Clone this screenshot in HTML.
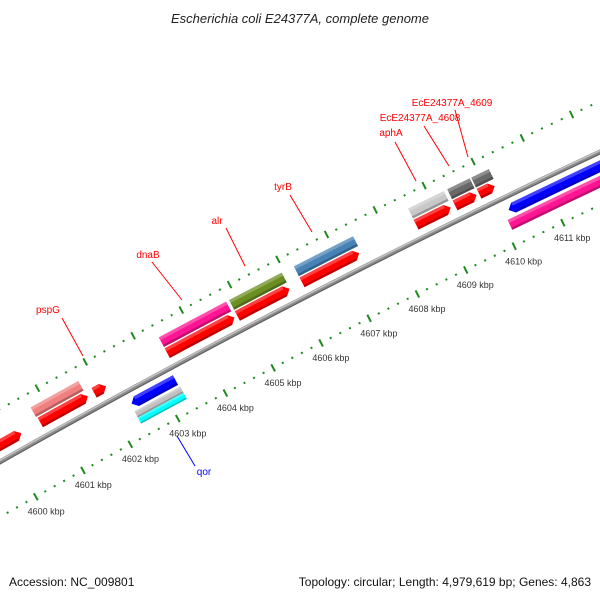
<!DOCTYPE html>
<html><head><meta charset="utf-8"><style>
html,body{margin:0;padding:0;background:#fff;width:600px;height:600px;overflow:hidden}
svg{display:block;font-family:"Liberation Sans",sans-serif}
</style></head><body>
<svg id="map" width="600" height="600" viewBox="0 0 600 600">
<text x="300" y="23" text-anchor="middle" font-size="13" font-style="italic" fill="#222">Escherichia coli E24377A, complete genome</text>
<g id="backbone-g"></g>
<g id="ticks-g"></g>
<g id="feat-g"></g>
<g id="labels-g">
<line x1="62" y1="318" x2="83" y2="356" stroke="#f00" stroke-width="1"/>
<text x="48" y="313" text-anchor="middle" font-size="10" fill="#f00">pspG</text>
<line x1="152" y1="262" x2="182" y2="300" stroke="#f00" stroke-width="1"/>
<text x="148" y="258" text-anchor="middle" font-size="10" fill="#f00">dnaB</text>
<line x1="226" y1="228" x2="245" y2="266" stroke="#f00" stroke-width="1"/>
<text x="217" y="224" text-anchor="middle" font-size="10" fill="#f00">alr</text>
<line x1="290" y1="195" x2="312" y2="232" stroke="#f00" stroke-width="1"/>
<text x="283" y="190" text-anchor="middle" font-size="10" fill="#f00">tyrB</text>
<line x1="395" y1="142" x2="416" y2="181" stroke="#f00" stroke-width="1"/>
<text x="391" y="136" text-anchor="middle" font-size="10" fill="#f00">aphA</text>
<line x1="424" y1="126" x2="449" y2="166" stroke="#f00" stroke-width="1"/>
<text x="420" y="121" text-anchor="middle" font-size="10" fill="#f00">EcE24377A_4608</text>
<line x1="455" y1="110" x2="468" y2="157" stroke="#f00" stroke-width="1"/>
<text x="452" y="106" text-anchor="middle" font-size="10" fill="#f00">EcE24377A_4609</text>
<line x1="177" y1="436" x2="195" y2="466" stroke="#00f" stroke-width="1"/>
<text x="204" y="475" text-anchor="middle" font-size="10" fill="#00f">qor</text>
</g>
<text x="9" y="586" font-size="12" fill="#111">Accession: NC_009801</text>
<text x="591" y="586" text-anchor="end" font-size="12" fill="#111">Topology: circular; Length: 4,979,619 bp; Genes: 4,863</text>
</svg>
<script>
// data arrays (kbp)
const featStart = [4599.3, 4600.72, 4600.74, 4601.87, 4602.38, 4602.36, 4602.36, 4603.40, 4603.40, 4604.86, 4604.86, 4606.20, 4606.20, 4608.55, 4608.55, 4609.35, 4609.35, 4609.84, 4609.84, 4610.20, 4610.10];
const featEnd   = [4600.34, 4601.72, 4601.74, 4602.12, 4603.30, 4603.32, 4603.32, 4604.80, 4604.80, 4605.95, 4605.94, 4607.42, 4607.38, 4609.28, 4609.26, 4609.81, 4609.79, 4610.20, 4610.16, 4613.50, 4613.50];
const featStrand = [1, 1, 1, 1, -1, -1, -1, 1, 1, 1, 1, 1, 1, 1, 1, 1, 1, 1, 1, -1, -1];
const featKind  = ["cds", "cogPink", "cds", "cds", "cdsRev", "grayRev", "cyanRev", "cogMagenta", "cds", "cogOlive", "cds", "cogSteel", "cds", "cogLight", "cds", "cogDark", "cds", "cogDark", "cds", "cdsRev", "magRev"];
const featName  = ["cds-partial", "pspG-cog", "pspG", "small-cds", "qor", "qor-gray", "qor-cyan", "dnaB-cog", "dnaB", "alr-cog", "alr", "tyrB-cog", "tyrB", "aphA-cog", "aphA", "ece4608-cog", "ece4608", "ece4609-cog", "ece4609", "rev-cds-right", "rev-cog-right"];
const tickLabelKbp = [4600, 4601, 4602, 4603, 4604, 4605, 4606, 4607, 4608, 4609, 4610, 4611, 4612];
const tickMin = 4599, tickMax = 4613;

// geometry (style/layout)
const NS = "http://www.w3.org/2000/svg";
const CX = 4448.9, CY = 8340.5;
const RL = 9000, RB = 9048, RU = 9094;
const phA = Math.atan2(497 - CY, 36 - CX), phB = Math.atan2(223 - CY, 563 - CX);
const dphi = (phB - phA) / 11;
function ang(k){ return phA + (k - 4600) * dphi; }
function pt(k, r){ const a = ang(k); return [CX + r * Math.cos(a), CY + r * Math.sin(a)]; }
const kinds = {
  cds:{off:14.6, th:11, col:"#ff0000", arrow:true},
  cdsRev:{off:-13, th:11, col:"#0000ff", arrow:true},
  cogPink:{off:27, th:11, col:"#f08080"},
  cogMagenta:{off:27, th:11, col:"#ff1493"},
  cogOlive:{off:27, th:11, col:"#6b8e23"},
  cogSteel:{off:27, th:11, col:"#4682b4"},
  cogLight:{off:27, th:11, col:"#c8c8c8"},
  cogDark:{off:27, th:11, col:"#696969"},
  grayRev:{off:-24.5, th:7, col:"#c0c0c0"},
  cyanRev:{off:-31.5, th:7, col:"#00ffff"},
  magRev:{off:-27, th:11, col:"#ff1493"}
};
function polyStr(p){ return p.map(q => q[0].toFixed(2) + "," + q[1].toFixed(2)).join(" "); }

// backbone
(function(){
  const g = document.getElementById("backbone-g");
  const specs = [[RB, 5, "#8c8c8c"], [RB + 1.3, 1.4, "#c4c4c4"], [RB - 1.8, 1, "#5e5e5e"]];
  specs.forEach((s, i) => {
    const pts = [];
    for (let k = tickMin - 1; k <= tickMax + 1; k += 0.5) pts.push(pt(k, s[0]));
    const pl = document.createElementNS(NS, "polyline");
    pl.setAttribute("points", polyStr(pts));
    pl.setAttribute("fill", "none");
    pl.setAttribute("stroke", s[2]);
    pl.setAttribute("stroke-width", s[1]);
    
    
    g.appendChild(pl);
  });
})();

// ticks
(function(){
  const g = document.getElementById("ticks-g");
  [RU, RL].forEach(r => {
    for (let i = 0; ; i++) {
      const k = tickMin + i * 0.2;
      if (k > tickMax + 1e-6) break;
      const major = Math.abs(k - Math.round(k)) < 1e-6;
      const h = major ? 4 : 1;
      const a = pt(k, r - h), b = pt(k, r + h);
      const ln = document.createElementNS(NS, "line");
      ln.setAttribute("x1", a[0]); ln.setAttribute("y1", a[1]);
      ln.setAttribute("x2", b[0]); ln.setAttribute("y2", b[1]);
      ln.setAttribute("stroke", "#1f8a1f");
      ln.setAttribute("stroke-width", 2);
      
      
      g.appendChild(ln);
    }
  });
  tickLabelKbp.forEach(k => {
    const p = pt(k, RL - 17);
    const t = document.createElementNS(NS, "text");
    t.setAttribute("x", p[0] + 2); t.setAttribute("y", p[1] + 3);
    t.setAttribute("text-anchor", "middle");
    t.setAttribute("font-size", "9");
    t.setAttribute("fill", "#333");
    t.textContent = k + " kbp";
    
    
    g.appendChild(t);
  });
})();

// features
(function(){
  const g = document.getElementById("feat-g");
  function band(k1, k2, r1, r2){
    const n = 8, out = [], inn = [];
    for (let i = 0; i <= n; i++) { const k = k1 + (k2 - k1) * i / n; out.push(pt(k, r2)); inn.push(pt(k, r1)); }
    return out.concat(inn.reverse());
  }
  for (let i = 0; i < featStart.length; i++) {
    const s = kinds[featKind[i]];
    const rc = RB + s.off, r1 = rc - s.th / 2, r2 = rc + s.th / 2;
    const k1 = featStart[i], k2 = featEnd[i];
    const tip = Math.min(0.1, (k2 - k1) * 0.4);
    let pts;
    if (s.arrow && featStrand[i] > 0) {
      pts = band(k1, k2 - tip, r1, r2);
      pts.splice(9, 0, pt(k2, rc));
    } else if (s.arrow && featStrand[i] < 0) {
      pts = band(k1 + tip, k2, r1, r2);
      pts.push(pt(k1, rc));
    } else {
      pts = band(k1, k2, r1, r2);
    }
    const grp = document.createElementNS(NS, "g");
    
    
    const p = document.createElementNS(NS, "polygon");
    p.setAttribute("points", polyStr(pts));
    p.setAttribute("fill", s.col);
    
    
    grp.appendChild(p);
    const a1 = s.arrow && featStrand[i] < 0 ? k1 + tip : k1;
    const a2 = s.arrow && featStrand[i] > 0 ? k2 - tip : k2;
    const hi = document.createElementNS(NS, "polygon");
    hi.setAttribute("points", polyStr(band(a1, a2, r2 - s.th * 0.3, r2)));
    hi.setAttribute("fill", "#fff");
    hi.setAttribute("fill-opacity", "0.25");
    
    
    grp.appendChild(hi);
    const sh = document.createElementNS(NS, "polygon");
    sh.setAttribute("points", polyStr(band(a1, a2, r1, r1 + s.th * 0.22)));
    sh.setAttribute("fill", "#000");
    sh.setAttribute("fill-opacity", "0.25");
    
    
    grp.appendChild(sh);
    g.appendChild(grp);
  }
})();
</script>
</body></html>
